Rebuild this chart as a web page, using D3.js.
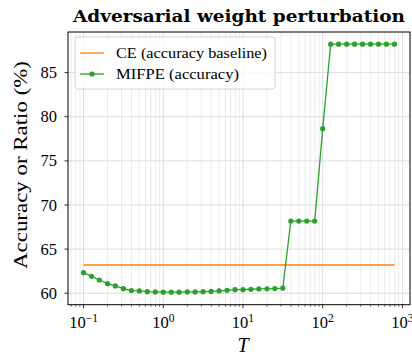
<!DOCTYPE html>
<meta charset="utf-8">
<html>
<head>
<script src="https://cdn.jsdelivr.net/npm/d3@7"></script>
<style>
  body { margin: 0; background: white; }
  text { font-family: "Liberation Serif", serif; fill: #000; }
</style>
</head>
<body>
<div id="chart"></div>
<script>
// T values (log spaced)
const T = [0.1, 0.126, 0.158, 0.2, 0.251, 0.316, 0.398, 0.501, 0.631, 0.794,
           1, 1.26, 1.58, 2, 2.51, 3.16, 3.98, 5.01, 6.31, 7.94,
           10, 12.6, 15.8, 20, 25.1, 31.6, 39.8, 50.1, 63.1, 79.4,
           100, 126, 158, 200, 251, 316, 398, 501, 631, 794];

// MIFPE accuracy (%)
const mifpe = [62.33, 61.92, 61.5, 61.08, 60.83, 60.52, 60.3, 60.26, 60.18, 60.15,
               60.12, 60.12, 60.12, 60.15, 60.15, 60.18, 60.2, 60.26, 60.33, 60.4,
               60.4, 60.45, 60.49, 60.5, 60.53, 60.57, 68.17, 68.17, 68.17, 68.17,
               78.65, 88.22, 88.22, 88.22, 88.22, 88.22, 88.22, 88.22, 88.22, 88.22];

// CE accuracy baseline (%)
const ceBaseline = 63.2;

const yTicks = [60, 65, 70, 75, 80, 85];
const xTicks = [0.1, 1, 10, 100, 1000];
const xTickExp = ["\u22121", "0", "1", "2", "3"];

const W = 412, H = 360;
const margin = {top: 32, right: 2, bottom: 55.3, left: 68};
const iw = W - margin.left - margin.right, ih = H - margin.top - margin.bottom;

const svg = d3.select("#chart").append("svg")
  .attr("width", W).attr("height", H);

const x = d3.scaleLog()
  .domain([Math.pow(10, -1.195), Math.pow(10, 3.095)])
  .range([0, iw]);
const y = d3.scaleLinear().domain([58.7, 89.6]).range([ih, 0]);

const g = svg.append("g").attr("transform", `translate(${margin.left},${margin.top})`);

// minor x positions
const minor = [];
for (let d = -2; d <= 3; d++) {
  for (let m = 2; m <= 9; m++) {
    const v = m * Math.pow(10, d);
    if (v > x.domain()[0] && v < x.domain()[1]) minor.push(v);
  }
}

// grid
const grid = g.append("g");
grid.selectAll(".mnx").data(minor).enter().append("line")
  .attr("x1", d => x(d)).attr("x2", d => x(d))
  .attr("y1", 0).attr("y2", ih)
  .attr("stroke", "#e6e6e6").attr("stroke-width", 0.8);
grid.selectAll(".mjx").data(xTicks.filter(v => x(v) < iw)).enter().append("line")
  .attr("x1", d => x(d)).attr("x2", d => x(d))
  .attr("y1", 0).attr("y2", ih)
  .attr("stroke", "#d6d6d6").attr("stroke-width", 0.8);
grid.selectAll(".mjy").data(yTicks).enter().append("line")
  .attr("x1", 0).attr("x2", iw)
  .attr("y1", d => y(d)).attr("y2", d => y(d))
  .attr("stroke", "#d6d6d6").attr("stroke-width", 0.8);

// baseline
g.append("line")
  .attr("x1", x(T[0])).attr("x2", x(T[T.length - 1]))
  .attr("y1", y(ceBaseline)).attr("y2", y(ceBaseline))
  .attr("stroke", "#ff7f0e").attr("stroke-width", 1.3);

// MIFPE
const pts = T.map((t, i) => [t, mifpe[i]]);
g.append("path")
  .datum(pts)
  .attr("fill", "none")
  .attr("stroke", "#2ca02c")
  .attr("stroke-width", 1.3)
  .attr("d", d3.line().x(d => x(d[0])).y(d => y(d[1])));
g.selectAll(".dot").data(pts).enter().append("circle")
  .attr("cx", d => x(d[0])).attr("cy", d => y(d[1]))
  .attr("r", 2.6).attr("fill", "#2ca02c");

// frame
g.append("rect").attr("width", iw).attr("height", ih)
  .attr("fill", "none").attr("stroke", "#000").attr("stroke-width", 1);

// y axis ticks
g.selectAll(".yt").data(yTicks).enter().append("line")
  .attr("x1", -3.5).attr("x2", 0)
  .attr("y1", d => y(d)).attr("y2", d => y(d))
  .attr("stroke", "#000").attr("stroke-width", 0.8);
g.selectAll(".yl").data(yTicks).enter().append("text")
  .attr("x", -11).attr("y", d => y(d)).attr("dy", "0.34em")
  .attr("text-anchor", "end").style("font-size", "16.5px")
  .text(d => d);

// x axis ticks
g.selectAll(".xt").data(xTicks.filter(v => x(v) < iw)).enter().append("line")
  .attr("x1", d => x(d)).attr("x2", d => x(d))
  .attr("y1", ih).attr("y2", ih + 3.5)
  .attr("stroke", "#000").attr("stroke-width", 0.8);
g.selectAll(".xm").data(minor).enter().append("line")
  .attr("x1", d => x(d)).attr("x2", d => x(d))
  .attr("y1", ih).attr("y2", ih + 2)
  .attr("stroke", "#000").attr("stroke-width", 0.6);
const xl = g.selectAll(".xl").data(xTicks).enter().append("text")
  .attr("x", d => x(d)).attr("y", ih + 23.6)
  .attr("text-anchor", "middle").style("font-size", "16.5px");
xl.append("tspan").text("10");
xl.append("tspan").attr("dy", -6.5).style("font-size", "11.5px").text((d, i) => xTickExp[i]);

// axis labels
g.append("text")
  .attr("x", iw / 2 + 4).attr("y", ih + 47)
  .attr("text-anchor", "middle")
  .style("font-size", "20px").style("font-style", "italic")
  .text("T");
svg.append("text")
  .attr("transform", `translate(27,165) rotate(-90)`)
  .attr("text-anchor", "middle").style("font-size", "18.5px")
  .attr("textLength", 208).attr("lengthAdjust", "spacingAndGlyphs")
  .text("Accuracy or Ratio (%)");

// title
svg.append("text")
  .attr("x", margin.left + iw / 2).attr("y", 22)
  .attr("text-anchor", "middle")
  .style("font-family", "'DejaVu Serif', serif")
  .style("font-size", "16.5px").style("font-weight", "bold")
  .attr("textLength", 332).attr("lengthAdjust", "spacingAndGlyphs")
  .text("Adversarial weight perturbation");

// legend
const lg = g.append("g").attr("transform", "translate(7,5)");
lg.append("rect").attr("width", 200).attr("height", 52).attr("rx", 3)
  .attr("fill", "white").attr("fill-opacity", 0.8)
  .attr("stroke", "#cccccc").attr("stroke-width", 0.8);
lg.append("line").attr("x1", 5).attr("x2", 29).attr("y1", 16).attr("y2", 16)
  .attr("stroke", "#ff7f0e").attr("stroke-width", 1.3);
lg.append("text").attr("x", 41).attr("y", 16).attr("dy", "0.34em")
  .style("font-size", "15px")
  .attr("textLength", 151).attr("lengthAdjust", "spacingAndGlyphs")
  .text("CE (accuracy baseline)");
lg.append("line").attr("x1", 5).attr("x2", 29).attr("y1", 37).attr("y2", 37)
  .attr("stroke", "#2ca02c").attr("stroke-width", 1.3);
lg.append("circle").attr("cx", 17).attr("cy", 37).attr("r", 2.6).attr("fill", "#2ca02c");
lg.append("text").attr("x", 41).attr("y", 37).attr("dy", "0.34em")
  .style("font-size", "15px")
  .attr("textLength", 123).attr("lengthAdjust", "spacingAndGlyphs")
  .text("MIFPE (accuracy)");
</script>
</body>
</html>
